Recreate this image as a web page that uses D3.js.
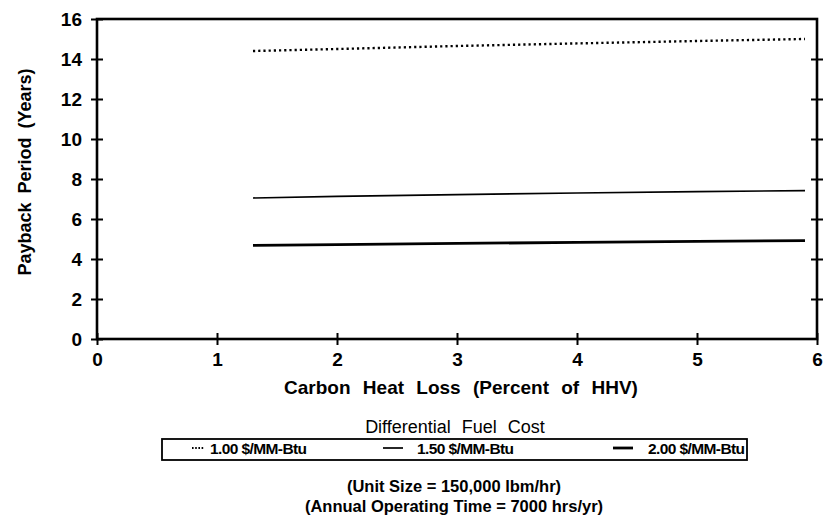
<!DOCTYPE html>
<html><head><meta charset="utf-8">
<script src="https://cdn.jsdelivr.net/npm/d3@7"></script>
<style>body{margin:0;background:#fff}svg{display:block}text{font-family:"Liberation Sans",Arial,Helvetica,sans-serif;fill:#000}</style>
</head><body><svg id="c" width="824" height="520"></svg>
<script>
const xValues = [1.3, 2, 3, 4, 5, 5.9];
const series100 = [14.4, 14.5, 14.65, 14.78, 14.9, 15.0];
const series150 = [7.05, 7.13, 7.22, 7.3, 7.37, 7.42];
const series200 = [4.68, 4.72, 4.78, 4.83, 4.88, 4.92];
const seriesNames = ["1.00 $/MM-Btu", "1.50 $/MM-Btu", "2.00 $/MM-Btu"];
const xTicks = [0, 1, 2, 3, 4, 5, 6];
const yTicks = [0, 2, 4, 6, 8, 10, 12, 14, 16];

const svg = d3.select("#c");
const L = 97, R = 817, T = 19, B = 339;
const x = d3.scaleLinear().domain([0, 6]).range([L, R]);
const y = d3.scaleLinear().domain([0, 16]).range([B, T]);
const FONT = "Liberation Sans, Arial, sans-serif";

// frame
svg.append("rect").attr("x", L).attr("y", T).attr("width", R - L).attr("height", B - T)
  .attr("fill", "none").attr("stroke", "#000").attr("stroke-width", 2.6);

// left axis
const yAx = svg.append("g").attr("transform", `translate(${L},0)`)
  .call(d3.axisLeft(y).tickValues(yTicks).tickSize(6).tickPadding(9).tickFormat(d3.format("d")));
yAx.select(".domain").remove();
yAx.selectAll(".tick line").attr("x1", -6).attr("x2", 6).attr("stroke-width", 2);
yAx.selectAll(".tick text").attr("font-size", 19).attr("font-weight", "bold").attr("font-family", FONT);

// right ticks
const yAxR = svg.append("g").attr("transform", `translate(${R},0)`)
  .call(d3.axisRight(y).tickValues(yTicks.slice(1, -1)).tickSize(6).tickFormat(""));
yAxR.select(".domain").remove();
yAxR.selectAll(".tick line").attr("x1", -6).attr("x2", 6).attr("stroke-width", 2);

// bottom axis
const xAx = svg.append("g").attr("transform", `translate(0,${B})`)
  .call(d3.axisBottom(x).tickValues(xTicks).tickSize(6).tickPadding(8).tickFormat(d3.format("d")));
xAx.select(".domain").remove();
xAx.selectAll(".tick line").attr("y1", -6).attr("y2", 6).attr("stroke-width", 2);
xAx.selectAll(".tick text").attr("font-size", 19).attr("font-weight", "bold").attr("font-family", FONT);

// axis titles
svg.append("text").attr("x", 461).attr("y", 394).attr("text-anchor", "middle")
  .attr("font-size", 19).attr("font-weight", "bold").attr("word-spacing", 7).text("Carbon Heat Loss (Percent of HHV)");
svg.append("text").attr("transform", "translate(31,172) rotate(-90)").attr("text-anchor", "middle")
  .attr("font-size", 18).attr("font-weight", "bold").attr("word-spacing", 4)
  .text("Payback Period (Years)");

// lines
const line = d3.line().x((d, i) => x(xValues[i])).y(d => y(d));
const styles = [
  {w: 2.4, dash: "2.2,3"},
  {w: 1.7, dash: null},
  {w: 2.8, dash: null}
];
[series100, series150, series200].forEach((s, k) => {
  svg.append("path").datum(s).attr("d", line).attr("fill", "none").attr("stroke", "#000")
    .attr("stroke-width", styles[k].w).attr("stroke-dasharray", styles[k].dash);
});

// legend
svg.append("text").attr("x", 455).attr("y", 433).attr("text-anchor", "middle")
  .attr("font-size", 18).attr("word-spacing", 6).text("Differential Fuel Cost");
svg.append("rect").attr("x", 162).attr("y", 439).attr("width", 585).attr("height", 21)
  .attr("fill", "none").attr("stroke", "#000").attr("stroke-width", 1.8);
const legX = [[192, 204, 210], [383, 403, 417], [613, 633, 648]];
seriesNames.forEach((n, k) => {
  svg.append("line").attr("x1", legX[k][0]).attr("x2", legX[k][1]).attr("y1", 448).attr("y2", 448)
    .attr("stroke", "#000").attr("stroke-width", k === 0 ? 2 : styles[k].w).attr("stroke-dasharray", k === 0 ? "1.6,1.6" : null);
  svg.append("text").attr("x", legX[k][2]).attr("y", 454).attr("font-size", 15.5).attr("letter-spacing", -0.6)
    .attr("font-weight", "bold").text(n);
});

// notes
svg.append("text").attr("x", 454).attr("y", 492).attr("text-anchor", "middle")
  .attr("font-size", 16.5).attr("font-weight", "bold").text("(Unit Size = 150,000 lbm/hr)");
svg.append("text").attr("x", 454).attr("y", 512).attr("text-anchor", "middle")
  .attr("font-size", 16.5).attr("font-weight", "bold").text("(Annual Operating Time = 7000 hrs/yr)");
</script></body></html>
